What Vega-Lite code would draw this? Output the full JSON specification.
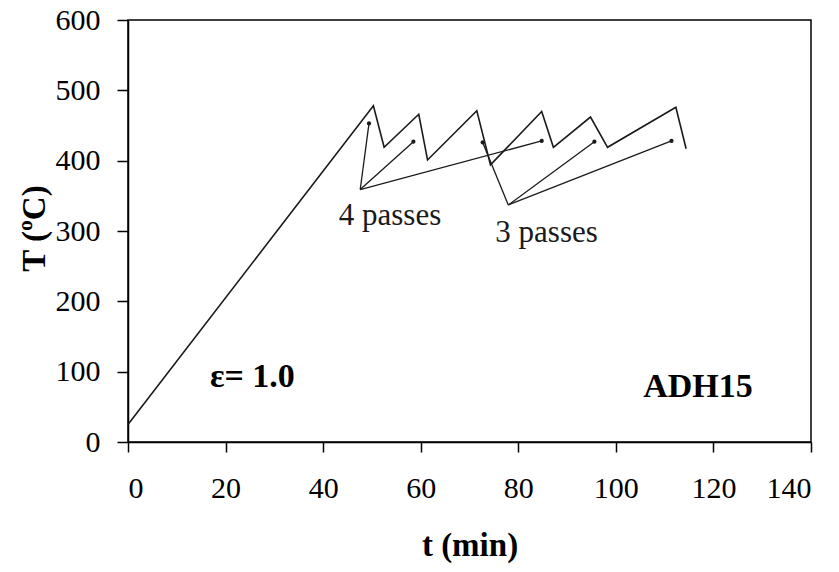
{
  "$schema": "https://vega.github.io/schema/vega-lite/v6.json",
  "width": 683,
  "height": 422,
  "autosize": {"type": "none"},
  "padding": {"left": 128, "top": 20, "right": 28, "bottom": 130},
  "background": "white",
  "config": {
    "view": {"stroke": "black", "strokeWidth": 1.5},
    "font": "Liberation Serif",
    "axis": {
      "grid": false,
      "domainColor": "black",
      "domainWidth": 1.5,
      "tickColor": "black",
      "tickWidth": 1.5,
      "labelFont": "Liberation Serif",
      "labelFontSize": 30,
      "labelColor": "black",
      "titleFont": "Liberation Serif",
      "titleFontSize": 33,
      "titleFontWeight": "bold",
      "titleColor": "black"
    }
  },
  "datasets": {
    "path": [
      {"t": 0, "T": 25, "o": 0},
      {"t": 50.3, "T": 478, "o": 1},
      {"t": 52.5, "T": 419, "o": 2},
      {"t": 59.6, "T": 466, "o": 3},
      {"t": 61.4, "T": 401, "o": 4},
      {"t": 71.5, "T": 471, "o": 5},
      {"t": 74.3, "T": 394, "o": 6},
      {"t": 84.8, "T": 470, "o": 7},
      {"t": 87.2, "T": 419, "o": 8},
      {"t": 94.8, "T": 462, "o": 9},
      {"t": 98.3, "T": 419, "o": 10},
      {"t": 112.3, "T": 476, "o": 11},
      {"t": 114.4, "T": 417, "o": 12}
    ],
    "arrows": [
      {"group": "4 passes", "t": 47.6, "T": 359, "t2": 49.4, "T2": 453},
      {"group": "4 passes", "t": 47.6, "T": 359, "t2": 58.5, "T2": 427},
      {"group": "4 passes", "t": 47.6, "T": 359, "t2": 84.8, "T2": 428},
      {"group": "3 passes", "t": 77.95, "T": 337, "t2": 72.7, "T2": 426},
      {"group": "3 passes", "t": 77.95, "T": 337, "t2": 95.6, "T2": 427},
      {"group": "3 passes", "t": 77.95, "T": 337, "t2": 111.4, "T2": 428}
    ],
    "labels": [
      {"t": 53.7, "T": 308.5, "label": "4 passes"},
      {"t": 85.8, "T": 284.4, "label": "3 passes"}
    ],
    "boldlabels": [
      {"t": 16.8, "T": 78, "label": "ε= 1.0"},
      {"t": 105.6, "T": 64, "label": "ADH15"}
    ]
  },
  "layer": [
    {
      "data": {"name": "path"},
      "mark": {"type": "line", "color": "#1a1a1a", "strokeWidth": 1.6},
      "encoding": {
        "x": {
          "field": "t", "type": "quantitative",
          "scale": {"domain": [0, 140], "nice": false},
          "axis": {
            "values": [0, 20, 40, 60, 80, 100, 120, 140],
            "title": "t (min)",
            "tickSize": 10,
            "labelPadding": 21,
            "titleY": 113,
            "titleBaseline": "alphabetic"
          }
        },
        "y": {
          "field": "T", "type": "quantitative",
          "scale": {"domain": [0, 600], "nice": false},
          "axis": {
            "values": [0, 100, 200, 300, 400, 500, 600],
            "title": "T (ºC)",
            "tickSize": 11,
            "labelPadding": 17,
            "titleX": -94,
            "titleY": 208,
            "titleAngle": -90,
            "titleAlign": "center",
            "titleBaseline": "middle"
          }
        },
        "order": {"field": "o", "type": "quantitative"}
      }
    },
    {
      "data": {"name": "arrows"},
      "mark": {"type": "rule", "color": "#1a1a1a", "strokeWidth": 1.3},
      "encoding": {
        "x": {"field": "t", "type": "quantitative"},
        "y": {"field": "T", "type": "quantitative"},
        "x2": {"field": "t2"},
        "y2": {"field": "T2"}
      }
    },
    {
      "data": {"name": "arrows"},
      "mark": {"type": "point", "filled": true, "color": "#1a1a1a", "size": 18, "opacity": 1},
      "encoding": {
        "x": {"field": "t2", "type": "quantitative"},
        "y": {"field": "T2", "type": "quantitative"}
      }
    },
    {
      "data": {"name": "labels"},
      "mark": {"type": "text", "font": "Liberation Serif", "fontSize": 31, "align": "center", "baseline": "alphabetic", "color": "#1a1a1a"},
      "encoding": {
        "x": {"field": "t", "type": "quantitative"},
        "y": {"field": "T", "type": "quantitative"},
        "text": {"field": "label"}
      }
    },
    {
      "data": {"name": "boldlabels"},
      "mark": {"type": "text", "font": "Liberation Serif", "fontSize": 34, "fontWeight": "bold", "align": "left", "baseline": "alphabetic", "color": "black"},
      "encoding": {
        "x": {"field": "t", "type": "quantitative"},
        "y": {"field": "T", "type": "quantitative"},
        "text": {"field": "label"}
      }
    }
  ]
}
